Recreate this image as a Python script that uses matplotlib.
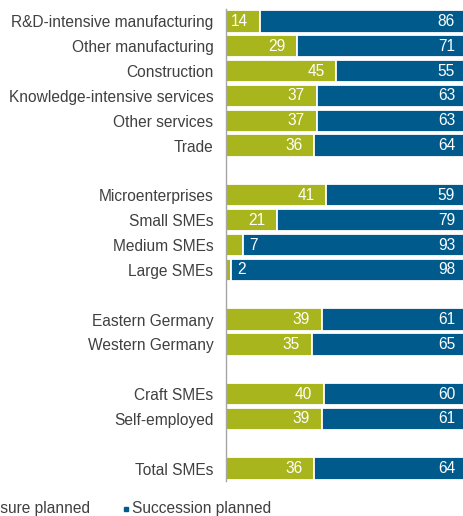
import numpy as np
import matplotlib
matplotlib.use('Agg')
import matplotlib.pyplot as plt

plt.rcParams['font.family'] = ['Liberation Sans', 'DejaVu Sans']

categories = ['R&D-intensive manufacturing', 'Other manufacturing', 'Construction',
              'Knowledge-intensive services', 'Other services', 'Trade',
              'Microenterprises', 'Small SMEs', 'Medium SMEs', 'Large SMEs',
              'Eastern Germany', 'Western Germany',
              'Craft SMEs', 'Self-employed',
              'Total SMEs']
# row slots, empty slots are the gaps between groups
slots = [0, 1, 2, 3, 4, 5, 7, 8, 9, 10, 12, 13, 15, 16, 18]
closure = [14, 29, 45, 37, 37, 36, 41, 21, 7, 2, 39, 35, 40, 39, 36]
succession = [86, 71, 55, 63, 63, 64, 59, 79, 93, 98, 61, 65, 60, 61, 64]

green = '#a8b51c'
blue = '#005a8c'
txt = '#404040'
fs = 11.2

fig = plt.figure(figsize=(4.64, 5.16), dpi=100)
ax = fig.add_axes([226/464, 1 - 481/516, 245/464, (481 - 9)/516])

y = np.array(slots)
ax.barh(y, closure, height=0.9, color=green, edgecolor='white', linewidth=1.3)
ax.barh(y, succession, left=closure, height=0.9, color=blue, edgecolor='white', linewidth=1.3)

for yi, c, s in zip(y, closure, succession):
    if c >= 10:
        ax.annotate(str(c), (c, yi), xytext=(-8.5, 0), textcoords='offset points',
                    ha='right', va='center', color='white', fontsize=fs)
    else:
        ax.annotate(str(c), (c, yi), xytext=(4.5, 0), textcoords='offset points',
                    ha='left', va='center', color='white', fontsize=fs)
    ax.annotate(str(s), (100, yi), xytext=(-11.5, 0), textcoords='offset points',
                ha='right', va='center', color='white', fontsize=fs)

ax.set_xlim(0, 100)
ax.set_ylim(18.5, -0.5)
ax.set_yticks(slots)
ax.set_yticklabels(categories, fontsize=fs, color=txt)
ax.tick_params(axis='y', length=0, pad=9)
ax.set_xticks([])
for side in ['top', 'right', 'bottom']:
    ax.spines[side].set_visible(False)
ax.spines['left'].set_color('#a6a6a6')
ax.spines['left'].set_linewidth(1.0)

# legend, partly cut off on the left like the source
ly = 1 - 508/516
fig.text(-23/464, ly, 'Closure planned', fontsize=fs, color=txt, va='center', ha='left')
fig.text(132/464, ly, 'Succession planned', fontsize=fs, color=txt, va='center', ha='left')
ax.plot([-31/464], [1 - 509/516], marker='s', ms=3, color=green, transform=fig.transFigure, clip_on=False)
ax.plot([126/464], [1 - 509/516], marker='s', ms=3, color=blue, transform=fig.transFigure, clip_on=False)

fig.savefig('out.png', dpi=100)
